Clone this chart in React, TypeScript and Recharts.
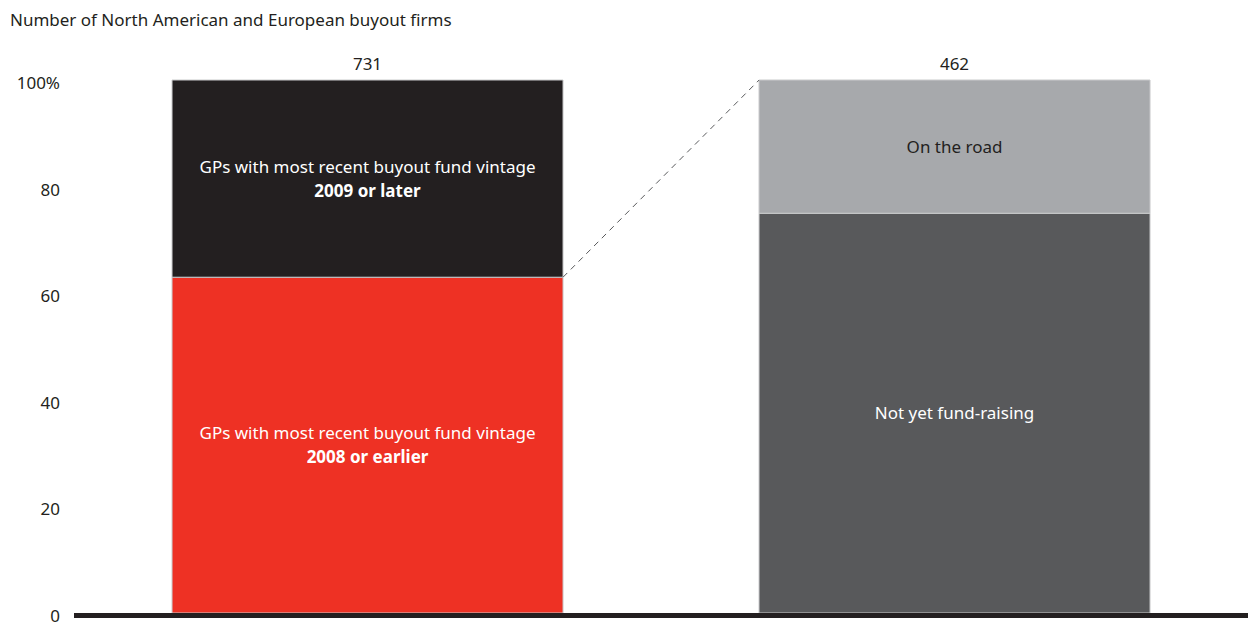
import React from 'react';
import { ComposedChart, Bar, XAxis, YAxis, Cell, LabelList, ReferenceLine } from 'recharts';

// bars: left = all firms, right = firms with 2008-or-earlier vintage
const categories = ['All firms', 'Vintage 2008 or earlier'];
const totals = [731, 462];
const bottomValues = [63, 75];
const topValues = [37, 25];

const bottomLabelMain = ['GPs with most recent buyout fund vintage', 'Not yet fund-raising'];
const bottomLabelBold = ['2008 or earlier', ''];
const topLabelMain = ['GPs with most recent buyout fund vintage', 'On the road'];
const topLabelBold = ['2009 or later', ''];

const yTicks = [0, 20, 40, 60, 80, 100];

const bottomColors = ['#ee3124', '#58595b'];
const topColors = ['#231f20', '#a7a9ac'];
const topTextColors = ['#ffffff', '#231f20'];

const FONT = '"Noto Sans", sans-serif';
const FS = 17;
const GAP = 0.167; // barCategoryGap as a fraction of the band

const data = categories.map((name, i) => ({
    name,
    total: totals[i],
    bottom: bottomValues[i],
    top: topValues[i],
}));

function makeSegmentLabel(main: string[], bold: string[], colors: string[]) {
    return (props: any) => {
        const { x, y, width, height, index } = props;
        const cx = x + width / 2;
        const cy = y + height / 2;
        const hasBold = !!bold[index];
        const color = colors[index];
        return (
            <g>
                <text x={cx} y={hasBold ? cy - 12 : cy} dy="0.35em" textAnchor="middle" fill={color}
                    fontSize={FS} fontFamily={FONT}>
                    {main[index]}
                </text>
                {hasBold && (
                    <text x={cx} y={cy + 12} dy="0.35em" textAnchor="middle" fill={color}
                        fontSize={FS} fontFamily={FONT} fontWeight={700}>
                        {bold[index]}
                    </text>
                )}
            </g>
        );
    };
}

// dashed connector: from the top of the red segment to the top-left corner of the right bar
const Connector = (props: any) => {
    const { x, y, width, height, index } = props;
    if (index !== 0) return null;
    const gap = (width * 2 * GAP) / (1 - 2 * GAP);
    return (
        <line x1={x + width} y1={y + height} x2={x + width + gap} y2={y}
            stroke="#58595b" strokeWidth={1} strokeDasharray="6 5" />
    );
};

const YTick = (props: any) => {
    const { x, y, payload } = props;
    return (
        <text x={x} y={y} dy={9} textAnchor="end" fill="#231f20" fontSize={FS} fontFamily={FONT}>
            {payload.value === 100 ? '100%' : payload.value}
        </text>
    );
};

const TotalLabel = (props: any) => {
    const { x, y, width, value } = props;
    return (
        <text x={x + width / 2} y={y - 10} textAnchor="middle" fill="#231f20" fontSize={FS} fontFamily={FONT}>
            {value}
        </text>
    );
};

export default function App() {
    return (
        <div style={{ position: 'absolute', left: 0, top: 0, width: 1248, height: 626, background: '#fff' }}>
            <div style={{ position: 'absolute', left: 10, top: 8, fontFamily: FONT, fontSize: FS, color: '#231f20' }}>
                Number of North American and European buyout firms
            </div>
            <ComposedChart width={1248} height={626} data={data} barCategoryGap={`${GAP * 100}%`}
                margin={{ top: 80, right: 0, bottom: 13, left: 0 }} style={{ overflow: 'visible' }}>
                <XAxis dataKey="name" hide />
                <YAxis domain={[0, 100]} ticks={yTicks} width={74} axisLine={false} tickLine={false}
                    tickSize={0} tickMargin={14} tick={<YTick />} interval={0} />
                <Bar dataKey="bottom" stackId="a" isAnimationActive={false}>
                    {data.map((d, i) => (
                        <Cell key={d.name} fill={bottomColors[i]} stroke="#c9cacb" strokeWidth={1} />
                    ))}
                    <LabelList dataKey="bottom" content={makeSegmentLabel(bottomLabelMain, bottomLabelBold, ['#ffffff', '#ffffff'])} />
                </Bar>
                <Bar dataKey="top" stackId="a" isAnimationActive={false}>
                    {data.map((d, i) => (
                        <Cell key={d.name} fill={topColors[i]} stroke="#c9cacb" strokeWidth={1} />
                    ))}
                    <LabelList dataKey="top" content={makeSegmentLabel(topLabelMain, topLabelBold, topTextColors)} />
                    <LabelList dataKey="total" content={<TotalLabel />} />
                    <LabelList dataKey="top" content={<Connector />} />
                </Bar>
                <ReferenceLine y={0} shape={(p: any) => (
                    <line x1={p.x1} x2={p.x2} y1={p.y1 + 2.5} y2={p.y2 + 2.5} stroke="#231f20" strokeWidth={5} />
                )} />
            </ComposedChart>
        </div>
    );
}
